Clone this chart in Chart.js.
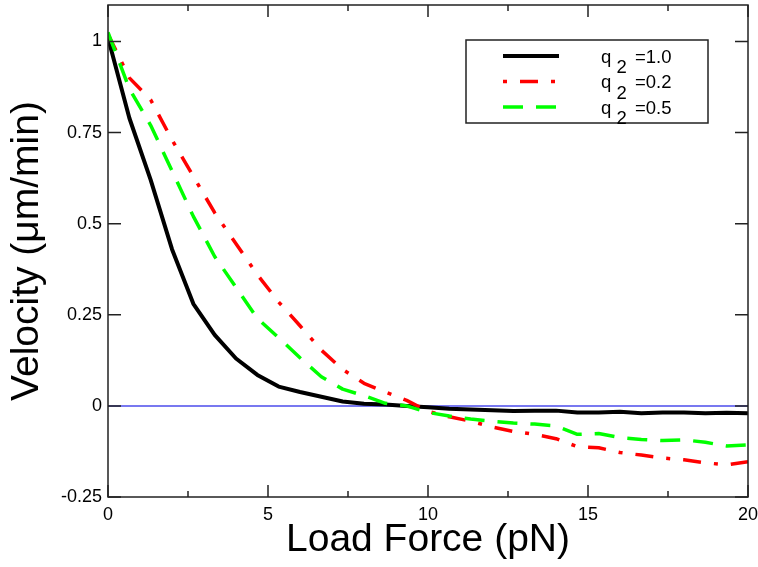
<!DOCTYPE html>
<html>
<head>
<meta charset="utf-8">
<script src="https://cdn.jsdelivr.net/npm/chart.js@4/dist/chart.umd.min.js"></script>
<style>
  html, body { margin: 0; padding: 0; background: #ffffff; }
  #wrap { width: 758px; height: 567px; }
</style>
</head>
<body>
<div id="wrap"><canvas id="c" width="758" height="567"></canvas></div>
<script>
// ---- Data ----
const forceValues = [0, 0.667, 1.333, 2, 2.667, 3.333, 4, 4.667, 5.333, 6, 6.667, 7.333, 8, 8.667, 9.333, 10,
  10.667, 11.333, 12, 12.667, 13.333, 14, 14.667, 15.333, 16, 16.667, 17.333, 18, 18.667, 19.333, 20];
const velocityQ2_10 = [1.01, 0.79, 0.62, 0.43, 0.28, 0.195, 0.13, 0.085, 0.053, 0.038, 0.025, 0.012, 0.006, 0.004, 0.0,
  -0.004, -0.008, -0.01, -0.012, -0.014, -0.013, -0.013, -0.018, -0.018, -0.016, -0.02, -0.018, -0.018, -0.02, -0.019, -0.02];
const velocityQ2_02 = [1.02, 0.90, 0.84, 0.73, 0.63, 0.53, 0.445, 0.36, 0.285, 0.22, 0.153, 0.10, 0.062, 0.038, 0.015,
  -0.015, -0.03, -0.042, -0.058, -0.07, -0.078, -0.09, -0.112, -0.115, -0.128, -0.135, -0.143, -0.148, -0.156, -0.162, -0.153];
const velocityQ2_05 = [1.025, 0.87, 0.77, 0.645, 0.52, 0.41, 0.325, 0.24, 0.187, 0.132, 0.08, 0.046, 0.028, 0.007, 0.0,
  -0.018, -0.028, -0.036, -0.042, -0.047, -0.05, -0.055, -0.078, -0.076, -0.087, -0.092, -0.095, -0.093, -0.10, -0.11, -0.107];
const zeroLineX = [0, 20];
const zeroLineY = [0, 0];
const seriesNames = ["1.0", "0.2", "0.5"];
const xTickValues = [0, 5, 10, 15, 20];
const xTickLabels = ["0", "5", "10", "15", "20"];
const xMinorTicks = [2.5, 7.5, 12.5, 17.5];
const yTickValues = [-0.25, 0, 0.25, 0.5, 0.75, 1];
const yTickLabels = ["-0.25", "0", "0.25", "0.5", "0.75", "1"];
const xTitle = "Load Force (pN)";
const yTitle = "Velocity (\u03bcm/min)";

const FONT = "'Liberation Sans', Arial, Helvetica, sans-serif";
const toPts = (xs, ys) => xs.map((x, i) => ({ x: x, y: ys[i] }));

const styles = [
  { color: "#000000", dash: [], width: 4 },
  { color: "#ff0000", dash: [18, 13, 4, 13], width: 3.5 },
  { color: "#00ff00", dash: [20, 13], width: 3.5 }
];

function noPad(s) { s.paddingLeft = 0; s.paddingRight = 0; s.paddingTop = 0; s.paddingBottom = 0; }

// ---- Frame, ticks and legend plugin ----
const framePlugin = {
  id: "frame",
  afterDraw(chart) {
    const ctx = chart.ctx;
    const a = chart.chartArea;
    const xs = chart.scales.x, ys = chart.scales.y;
    ctx.save();
    ctx.strokeStyle = "#222222";
    ctx.lineWidth = 1.5;
    ctx.setLineDash([]);
    ctx.strokeRect(a.left, a.top, a.right - a.left, a.bottom - a.top);
    ctx.beginPath();
    xTickValues.forEach(v => {
      const p = xs.getPixelForValue(v);
      ctx.moveTo(p, a.bottom); ctx.lineTo(p, a.bottom - 12);
      ctx.moveTo(p, a.top); ctx.lineTo(p, a.top + 12);
    });
    xMinorTicks.forEach(v => {
      const p = xs.getPixelForValue(v);
      ctx.moveTo(p, a.bottom); ctx.lineTo(p, a.bottom - 6);
      ctx.moveTo(p, a.top); ctx.lineTo(p, a.top + 6);
    });
    yTickValues.forEach(v => {
      const p = ys.getPixelForValue(v);
      ctx.moveTo(a.left, p); ctx.lineTo(a.left + 13, p);
      ctx.moveTo(a.right, p); ctx.lineTo(a.right - 13, p);
    });
    ctx.stroke();

    // legend
    const bx = 466, by = 40, bw = 242, bh = 83;
    ctx.fillStyle = "#ffffff";
    ctx.fillRect(bx, by, bw, bh);
    ctx.strokeStyle = "#222222";
    ctx.lineWidth = 1.5;
    ctx.strokeRect(bx, by, bw, bh);
    const rowY = [56, 81.5, 107];
    chart.data.datasets.slice(0, 3).forEach((ds, i) => {
      const st = styles[i];
      ctx.save();
      ctx.strokeStyle = st.color;
      ctx.lineWidth = st.width;
      ctx.setLineDash(st.dash);
      ctx.lineDashOffset = i === 1 ? 31 : 0;
      ctx.beginPath();
      ctx.moveTo(503, rowY[i]);
      ctx.lineTo(559, rowY[i]);
      ctx.stroke();
      ctx.restore();
      ctx.fillStyle = "#000000";
      ctx.font = "18.5px " + FONT;
      ctx.textBaseline = "alphabetic";
      ctx.textAlign = "left";
      const base = rowY[i] + 6.7;
      ctx.fillText("q", 601, base);
      ctx.fillText("2", 616.5, base + 10.5);
      ctx.fillText("=" + seriesNames[i], 635, base);
    });
    ctx.restore();
  }
};

const chart = new Chart(document.getElementById("c"), {
  type: "line",
  data: {
    datasets: [
      { label: "q2=1.0", data: toPts(forceValues, velocityQ2_10), borderColor: styles[0].color,
        borderWidth: styles[0].width, borderDash: styles[0].dash, order: 2 },
      { label: "q2=0.2", data: toPts(forceValues, velocityQ2_02), borderColor: styles[1].color,
        borderWidth: styles[1].width, borderDash: styles[1].dash, order: 1 },
      { label: "q2=0.5", data: toPts(forceValues, velocityQ2_05), borderColor: styles[2].color,
        borderWidth: styles[2].width, borderDash: styles[2].dash, order: 0 },
      { label: "zero", data: toPts(zeroLineX, zeroLineY), borderColor: "rgb(120,120,240)",
        borderWidth: 2, order: 3 }
    ]
  },
  options: {
    responsive: false,
    animation: false,
    events: [],
    layout: { padding: 0, autoPadding: false },
    elements: { point: { radius: 0 }, line: { tension: 0, fill: false, borderCapStyle: "butt", borderJoinStyle: "round" } },
    plugins: { legend: { display: false }, tooltip: { enabled: false }, title: { display: false } },
    scales: {
      x: {
        type: "linear", position: "bottom", min: 0, max: 20,
        grid: { display: false, drawTicks: false },
        border: { display: false },
        afterBuildTicks(s) { s.ticks = xTickValues.map(v => ({ value: v })); },
        ticks: {
          color: "#000000", font: { family: FONT, size: 18 }, padding: 7, maxRotation: 0, autoSkip: false,
          callback: (v) => xTickLabels[xTickValues.indexOf(v)]
        },
        title: { display: true, text: xTitle, color: "#000000", font: { family: FONT, size: 39, lineHeight: 1 },
                 padding: { top: 0, bottom: 7 } },
        afterFit(s) { s.height = 70; noPad(s); }
      },
      y: {
        type: "linear", position: "left", min: -0.25, max: 1.1,
        grid: { display: false, drawTicks: false },
        border: { display: false },
        afterBuildTicks(s) { s.ticks = yTickValues.map(v => ({ value: v })); },
        ticks: {
          color: "#000000", font: { family: FONT, size: 18 }, padding: 6, autoSkip: false,
          callback: (v) => yTickLabels[yTickValues.indexOf(v)]
        },
        title: { display: true, text: yTitle, color: "#000000", font: { family: FONT, size: 39, lineHeight: 1 },
                 padding: { top: 8, bottom: 0 } },
        afterFit(s) { s.width = 108; noPad(s); }
      },
      x2: {
        type: "linear", position: "top", min: 0, max: 20, display: true,
        grid: { display: false, drawTicks: false }, border: { display: false },
        ticks: { display: false },
        afterFit(s) { s.height = 5; noPad(s); }
      },
      y2: {
        type: "linear", position: "right", min: -0.25, max: 1.1, display: true,
        grid: { display: false, drawTicks: false }, border: { display: false },
        ticks: { display: false },
        afterFit(s) { s.width = 10; noPad(s); }
      }
    }
  },
  plugins: [framePlugin]
});
</script>
</body>
</html>
